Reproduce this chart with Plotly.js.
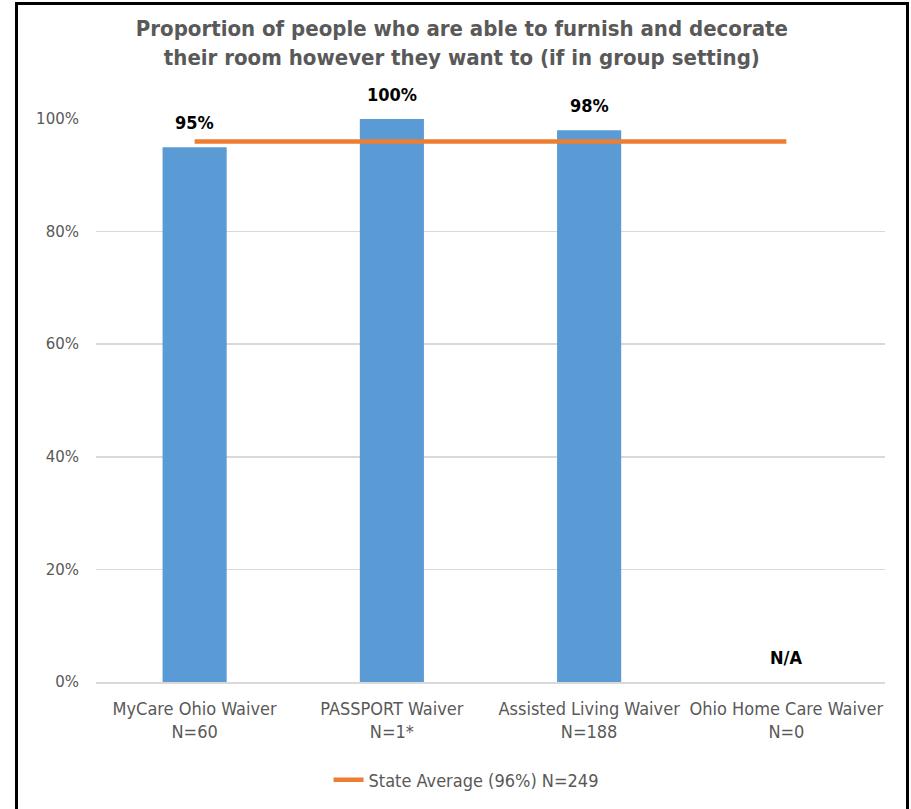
<!DOCTYPE html>
<html>
<head>
<meta charset="utf-8">
<script src="https://cdn.plot.ly/plotly-3.0.1.min.js"></script>
<style>
  html, body { margin: 0; padding: 0; background: #ffffff; }
  #chart { position: absolute; left: 0; top: 0; width: 911px; height: 809px; }
  #frame { position: absolute; left: 15px; top: 2px; width: 888px; height: 830px; border: 3px solid #000; pointer-events: none; }
</style>
</head>
<body>
<div id="chart"></div>
<div id="frame"></div>
<script>
const categories = [
  "MyCare Ohio Waiver<br>N=60",
  "PASSPORT Waiver<br>N=1*",
  "Assisted Living Waiver<br>N=188",
  "Ohio Home Care Waiver<br>N=0"
];
const values = [95, 100, 98, null];
const valueLabels = ["95%", "100%", "98%", "N/A"];
const stateAverage = [96, 96, 96, 96];
const stateAverageName = "State Average (96%) N=249";
const yTicks = [0, 20, 40, 60, 80, 100];
const yTickLabels = ["0%", "20%", "40%", "60%", "80%", "100%"];

const narrow = '"Liberation Sans Narrow", "DejaVu Sans Condensed", "Open Sans", sans-serif';
const grey = "#595959";

const traces = [
  {
    type: "bar",
    x: categories,
    y: values,
    marker: { color: "#5B9BD5" },
    showlegend: false,
    hoverinfo: "skip"
  },
  {
    type: "scatter",
    mode: "lines",
    x: categories,
    y: stateAverage,
    name: stateAverageName,
    line: { color: "#ED7D31", width: 4.5 },
    hoverinfo: "skip"
  }
];

const annotations = categories.map((c, i) => ({
  x: c,
  y: values[i] === null ? 0 : values[i],
  xref: "x",
  yref: "y",
  text: valueLabels[i],
  showarrow: false,
  yanchor: "bottom",
  yshift: 12,
  font: { family: narrow, size: 18, color: "#000000", weight: "bold" }
}));

const layout = {
  width: 911,
  height: 809,
  margin: { l: 96, r: 26, t: 119, b: 126 },
  paper_bgcolor: "#ffffff",
  plot_bgcolor: "#ffffff",
  title: {
    text: "Proportion of people who are able to furnish and decorate<br>their room however they want to (if in group setting)",
    font: { family: narrow, size: 22, color: grey, weight: "bold" },
    x: 0.507,
    xanchor: "center",
    y: 0.955,
    yanchor: "top"
  },
  bargap: 0.675,
  xaxis: {
    type: "category",
    tickfont: { family: narrow, size: 18, color: grey },
    showline: true,
    linecolor: "#d9d9d9",
    linewidth: 2,
    ticks: "",
    ticklabelstandoff: 9,
    fixedrange: true
  },
  yaxis: {
    range: [0, 100],
    tickvals: yTicks,
    ticktext: yTickLabels,
    tickfont: { family: '"DejaVu Sans", sans-serif', size: 15, color: grey },
    gridcolor: "#d9d9d9",
    gridwidth: 1.5,
    zeroline: false,
    showline: false,
    ticks: "",
    ticklabelstandoff: 16,
    fixedrange: true
  },
  legend: {
    orientation: "h",
    x: 0.469,
    xanchor: "center",
    y: -0.172,
    yanchor: "middle",
    font: { family: narrow, size: 18, color: grey },
    itemwidth: 30
  },
  annotations: annotations,
  showlegend: true
};

Plotly.newPlot("chart", traces, layout, { displayModeBar: false, staticPlot: true });
</script>
</body>
</html>
